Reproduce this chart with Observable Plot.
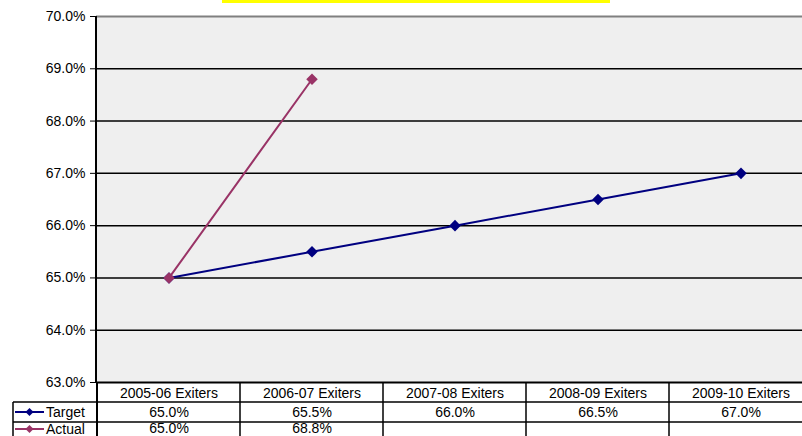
<!DOCTYPE html>
<html>
<head>
<meta charset="utf-8">
<script src="https://cdn.jsdelivr.net/npm/d3@7"></script>
<script src="https://cdn.jsdelivr.net/npm/@observablehq/plot@0.6"></script>
<style>
  html, body { margin: 0; padding: 0; background: #fff; }
  #chart svg { display: block; font-family: "Liberation Sans", Arial, sans-serif; }
</style>
</head>
<body>
<div id="chart"></div>
<script>
const categories = ["2005-06 Exiters", "2006-07 Exiters", "2007-08 Exiters", "2008-09 Exiters", "2009-10 Exiters"];
const target = [65.0, 65.5, 66.0, 66.5, 67.0];
const actual = [65.0, 68.8, null, null, null];
const yTicks = [63, 64, 65, 66, 67, 68, 69, 70];
const seriesNames = ["Target", "Actual"];
const seriesColors = ["#000080", "#993366"];

const fmt = v => v == null ? "" : v.toFixed(1) + "%";
const targetData = categories.map((c, i) => ({cat: c, v: target[i]}));
const actualData = categories.map((c, i) => ({cat: c, v: actual[i]})).filter(d => d.v != null);

const W = 802, H = 436;
const mLeft = 96, mTop = 16, mBottom = 382;
const bw = 143.5;
const xRange = [mLeft, mLeft + bw * categories.length];

function tableLayer(index, scales, values, dims) {
  const g = d3.create("svg:g");
  const x = scales.x;
  const rowTop = mBottom, row1 = 402, row2 = 422, end = H;
  g.append("rect").attr("x", 222).attr("y", 0).attr("width", 388).attr("height", 3).attr("fill", "#ffff00");
  g.append("line").attr("x1", 13).attr("x2", W).attr("y1", row1).attr("y2", row1).attr("stroke", "#000").attr("stroke-width", 1.5);
  g.append("line").attr("x1", 13).attr("x2", W).attr("y1", row2).attr("y2", row2).attr("stroke", "#000").attr("stroke-width", 1.5);
  g.append("line").attr("x1", 13).attr("x2", 13).attr("y1", row1).attr("y2", end).attr("stroke", "#000").attr("stroke-width", 1.5);
  categories.forEach((c, i) => {
    const xs = x(c);
    g.append("line").attr("x1", xs).attr("x2", xs).attr("y1", rowTop).attr("y2", end).attr("stroke", "#000").attr("stroke-width", i === 0 ? 2 : 1.5);
  });
  seriesNames.forEach((name, k) => {
    const cy = k === 0 ? 412 : 429;
    g.append("line").attr("x1", 15).attr("x2", 44).attr("y1", cy).attr("y2", cy).attr("stroke", seriesColors[k]).attr("stroke-width", 2);
    g.append("path").attr("d", d3.symbol(d3.symbolDiamond2, 42)()).attr("transform", `translate(29.5,${cy})`).attr("fill", seriesColors[k]);
    g.append("text").attr("x", 46).attr("y", cy).attr("dy", "0.35em").attr("text-anchor", "start").attr("font-size", 14).attr("fill", "#000").text(name);
  });
  g.append("line").attr("x1", mLeft).attr("x2", mLeft).attr("y1", mTop).attr("y2", mBottom).attr("stroke", "#000").attr("stroke-width", 2);
  return g.node();
}

const chart = Plot.plot({
  width: W,
  height: H,
  marginLeft: mLeft,
  marginTop: mTop,
  marginBottom: H - mBottom,
  marginRight: 0,
  style: {fontSize: "14px", fontFamily: "Liberation Sans, Arial, sans-serif", color: "#000", overflow: "hidden"},
  x: {type: "band", domain: categories, range: xRange, padding: 0, axis: null},
  y: {domain: [63, 70], range: [mBottom, mTop], ticks: yTicks, tickFormat: fmt, tickSize: 6, tickPadding: 5, label: null},
  marks: [
    Plot.frame({fill: "#efefef", stroke: null}),
    Plot.ruleY(yTicks.filter(t => t < 70 && t > 63), {stroke: "#000", strokeWidth: 1.5}),
    Plot.ruleY([70], {stroke: "#808080", strokeWidth: 2}),
    Plot.ruleY([63], {stroke: "#000", strokeWidth: 2}),
    Plot.lineY(targetData, {x: "cat", y: "v", stroke: seriesColors[0], strokeWidth: 2}),
    Plot.dot(targetData, {x: "cat", y: "v", symbol: "diamond2", r: 5.2, fill: seriesColors[0], stroke: null}),
    Plot.lineY(actualData, {x: "cat", y: "v", stroke: seriesColors[1], strokeWidth: 2}),
    Plot.dot(actualData, {x: "cat", y: "v", symbol: "diamond2", r: 5.2, fill: seriesColors[1], stroke: null}),
    Plot.text(categories, {x: d => d, text: d => d, frameAnchor: "bottom", lineAnchor: "middle", dy: 11, fontSize: 14, fill: "#000"}),
    Plot.text(targetData, {x: "cat", text: d => fmt(d.v), frameAnchor: "bottom", lineAnchor: "middle", dy: 30, fontSize: 14, fill: "#000"}),
    Plot.text(actualData, {x: "cat", text: d => fmt(d.v), frameAnchor: "bottom", lineAnchor: "middle", dy: 46.5, fontSize: 14, fill: "#000"}),
    tableLayer
  ]
});
document.getElementById("chart").appendChild(chart);
</script>
</body>
</html>
